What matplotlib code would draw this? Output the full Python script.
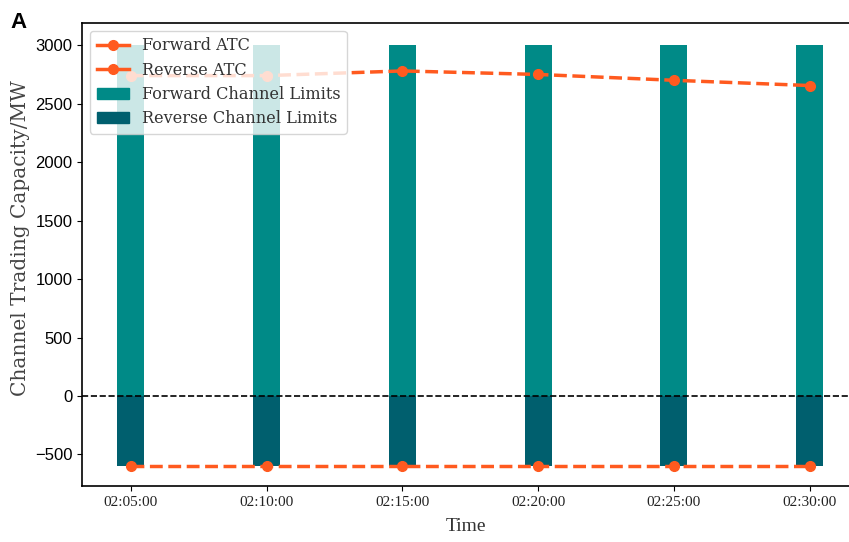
import matplotlib
matplotlib.use('Agg')
import matplotlib.pyplot as plt
from matplotlib.lines import Line2D
from matplotlib.patches import Patch
import numpy as np

times = ['02:05:00', '02:10:00', '02:15:00', '02:20:00', '02:25:00', '02:30:00']
forward_atc = [2740, 2740, 2780, 2750, 2700, 2655]
reverse_atc = [-600, -600, -600, -600, -600, -600]
forward_limit = [3000, 3000, 3000, 3000, 3000, 3000]
reverse_limit = [-600, -600, -600, -600, -600, -600]

c_fwd_bar = '#008a87'
c_rev_bar = '#005f6e'
c_line = '#ff5a1f'
serif = 'DejaVu Serif'

fig = plt.figure(figsize=(8.49, 5.42), dpi=100, facecolor='white')
ax = fig.add_axes([82 / 849, 1 - 486 / 542, 1 - 82 / 849, (486 - 23) / 542])

x = np.arange(len(times))
ax.bar(x, forward_limit, width=0.2, color=c_fwd_bar, zorder=2)
ax.bar(x, reverse_limit, width=0.2, color=c_rev_bar, zorder=2)
ax.plot(x, forward_atc, '--o', color=c_line, lw=2.5, ms=7, zorder=3)
ax.plot(x, reverse_atc, '--o', color=c_line, lw=2.5, ms=7, zorder=3)
ax.axhline(0, color='black', ls='--', lw=1.2, zorder=4)

ax.set_xlim(-0.36, 5.29)
ax.set_ylim(-770, 3190)
ax.set_xticks(x)
ax.set_xticklabels(times, fontfamily='Liberation Serif', fontsize=11, color='#222222')
ax.set_yticks(range(-500, 3001, 500))
for lab in ax.get_yticklabels():
    lab.set_fontfamily('Liberation Sans')
    lab.set_fontsize(12)
ax.spines['right'].set_visible(False)
for s in ['left', 'bottom', 'top']:
    ax.spines[s].set_linewidth(1.2)

ax.set_xlabel('Time', fontfamily='Liberation Serif', fontsize=14, color='#333333', labelpad=7)
ax.set_ylabel('Channel Trading Capacity/MW', fontfamily=serif, fontsize=14.5, color='#444444')
ax.yaxis.set_label_coords(-0.068, 0.535)

handles = [
    Line2D([], [], color=c_line, lw=2.5, marker='o', ms=7),
    Line2D([], [], color=c_line, lw=2.5, marker='o', ms=7),
    Patch(color=c_fwd_bar),
    Patch(color=c_rev_bar),
]
labels = ['Forward ATC', 'Reverse ATC', 'Forward Channel Limits', 'Reverse Channel Limits']
leg = ax.legend(handles, labels, loc='upper left', prop={'family': serif, 'size': 11.6},
                framealpha=0.8, fancybox=True, borderaxespad=0.5, labelspacing=0.45)
for t in leg.get_texts():
    t.set_color('#333333')

fig.text(10 / 849, 1 - 22 / 542, 'A', fontfamily='Liberation Sans', fontweight='bold', fontsize=16, va='center')

fig.savefig('out.png', dpi=100)
